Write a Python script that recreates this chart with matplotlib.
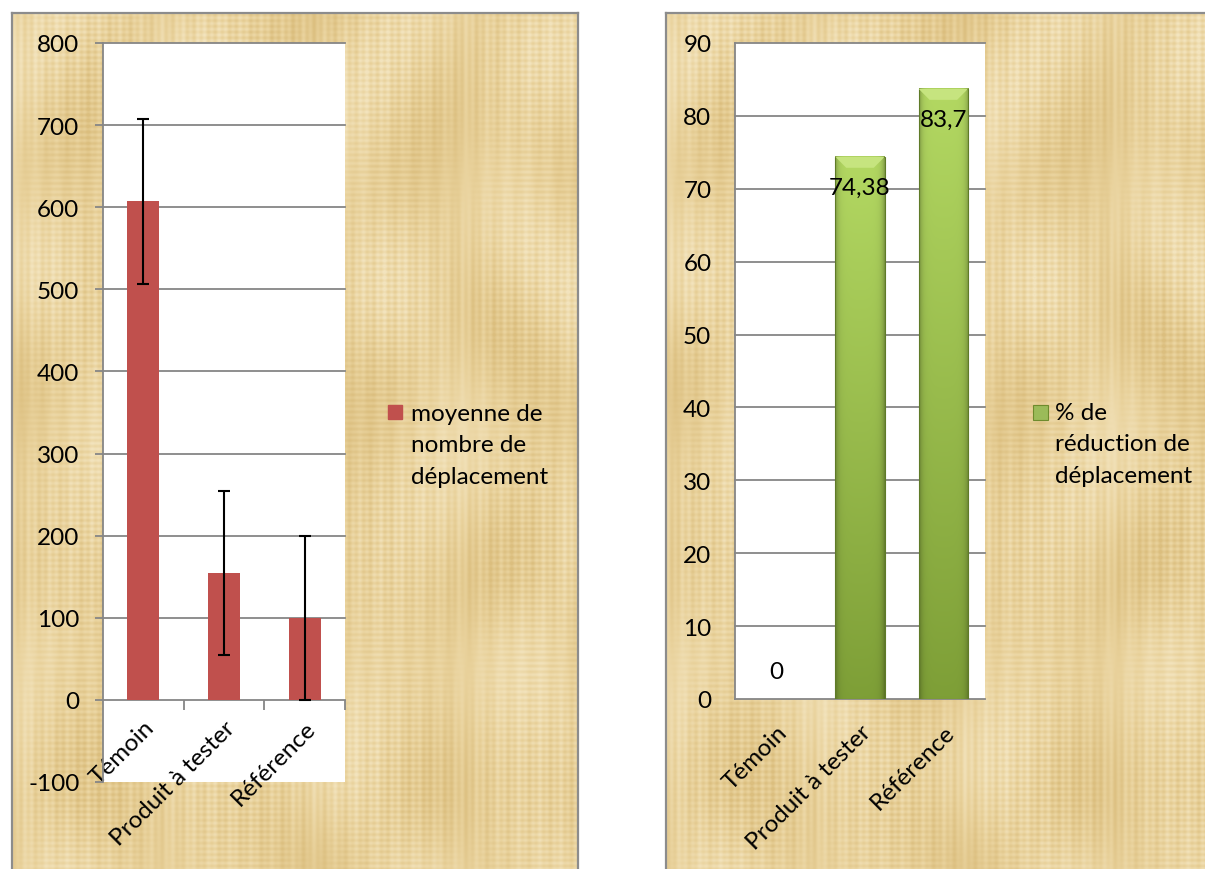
import matplotlib.pyplot as plt
import numpy as np
from matplotlib.patches import Rectangle, Polygon
from matplotlib.colors import LinearSegmentedColormap, to_rgb

W, H = 1205, 870

categories = ['Témoin', 'Produit à tester', 'Référence']
moyenne = [607, 155, 100]
ecart = [100, 100, 100]
reduction = [0, 74.38, 83.7]
reduction_txt = ['0', '74,38', '83,7']

plt.rcParams['font.family'] = ['Lato', 'DejaVu Sans']
plt.rcParams['axes.unicode_minus'] = False
FS = 17.5
GRID = '#868686'


def px_rect(x, y, w, h):
    # pixel box (from top-left) -> figure fraction
    return [x / W, 1 - (y + h) / H, w / W, h / H]


fig = plt.figure(figsize=(W / 100, H / 100), dpi=100)

# parchment texture, deterministic fine fibres
yy, xx = np.mgrid[0:870, 0:560]
tex = (0.55
       + 0.05 * np.sin(xx * 0.9) * np.sin(yy * 0.013 + 1.0)
       + 0.05 * np.sin(yy * 1.1) * np.sin(xx * 0.021)
       + 0.05 * np.sin(xx * 0.037 + 2.0 * np.sin(yy * 0.011))
       + 0.04 * np.sin(yy * 0.029 + 1.5 * np.sin(xx * 0.017))
       + 0.03 * np.sin(xx * 0.31 + yy * 0.004))
paper = LinearSegmentedColormap.from_list('paper', ['#DBBE7E', '#E9D29C', '#F3E4BE'])

for box in [(12, 14, 566, 870), (666, 14, 560, 870)]:
    bg = fig.add_axes(px_rect(*box))
    bg.imshow(tex, cmap=paper, aspect='auto', interpolation='bilinear', vmin=0.38, vmax=0.72)
    bg.set_xticks([])
    bg.set_yticks([])
    for s in bg.spines.values():
        s.set_color('#8C8C8C')
        s.set_linewidth(1.6)
    bg.spines['bottom'].set_visible(False)

# ---- left chart ----
ax = fig.add_axes(px_rect(103, 44, 242, 739))
ax.set_facecolor('white')
x = np.arange(len(categories))
ax.bar(x, moyenne, width=0.4, color='#C0504D', zorder=3,
       yerr=ecart, capsize=4,
       error_kw=dict(ecolor='black', elinewidth=1.5, capthick=1.5, zorder=4))
for v in range(100, 801, 100):
    ax.axhline(v, color=GRID, lw=1.3, zorder=1, clip_on=False)
ax.set_xlim(-0.5, 2.5)
ax.set_ylim(-100, 800)
ax.set_yticks(range(-100, 801, 100))
ax.tick_params(axis='y', length=6, width=1.3, color=GRID, pad=11, labelsize=FS)
ax.spines['bottom'].set_position(('data', 0))
for s in ['top', 'right']:
    ax.spines[s].set_visible(False)
for s in ['left', 'bottom']:
    ax.spines[s].set_color(GRID)
    ax.spines[s].set_linewidth(1.3)
ax.set_xticks(x)
ax.set_xticklabels(categories, rotation=45, ha='right', rotation_mode='anchor', fontsize=FS)
ax.tick_params(axis='x', length=0, pad=12)
ax.set_xticks([0.5, 1.5, 2.5], minor=True)
ax.tick_params(axis='x', which='minor', length=7, width=1.3, color=GRID)

fig.patches.append(Rectangle((388 / W, 1 - 420 / H), 14 / W, 14 / H,
                             transform=fig.transFigure, color='#C0504D'))
fig.text(411 / W, 1 - 446 / H, 'moyenne de\nnombre de\ndéplacement',
         va='center', ha='left', fontsize=FS, linespacing=1.6)

# ---- right chart ----
ax2 = fig.add_axes(px_rect(735, 44, 250, 656))
ax2.set_facecolor('white')
bars = ax2.bar(x, reduction, width=0.59, color='#9BBB59', zorder=3)
for v in range(10, 91, 10):
    ax2.axhline(v, color=GRID, lw=1.3, zorder=1, clip_on=False)

top_c = np.array(to_rgb('#B3D862'))
bot_c = np.array(to_rgb('#7E9F37'))
for b in bars:
    h = b.get_height()
    if h <= 0:
        continue
    x0, w = b.get_x(), b.get_width()
    t = np.linspace(1, 0, 120)[:, None, None]
    col = bot_c + (top_c - bot_c) * t
    u = np.linspace(0, 1, 60)
    edge = 1 - 0.28 * np.exp(-np.minimum(u, 1 - u) / 0.06)
    img = col * edge[None, :, None]
    ax2.imshow(img, extent=(x0, x0 + w, 0, h), aspect='auto', zorder=3.5,
               interpolation='bilinear')
    ax2.add_patch(Rectangle((x0, 0), w, h, fill=False, ec='#5F7B28', lw=0.8, zorder=3.8))
    dx, dy = 0.13, 1.5
    ax2.add_patch(Polygon([(x0, h), (x0 + w, h), (x0 + w - dx, h - dy), (x0 + dx, h - dy)],
                          closed=True, color='#C6E47F', zorder=3.9, lw=0))

for xi, v, lbl in zip(x, reduction, reduction_txt):
    off = -22 if v > 0 else 20
    ax2.annotate(lbl, (xi, v), xytext=(0, off), textcoords='offset points',
                 ha='center', va='center', fontsize=FS, zorder=5)

ax2.set_xlim(-0.5, 2.5)
ax2.set_ylim(0, 90)
ax2.set_yticks(range(0, 91, 10))
ax2.tick_params(axis='y', length=0, pad=17, labelsize=FS)
ax2.set_xticks(x)
ax2.set_xticklabels(categories, rotation=45, ha='right', rotation_mode='anchor', fontsize=FS)
ax2.tick_params(axis='x', length=0, pad=16)
for s in ['top', 'right']:
    ax2.spines[s].set_visible(False)
for s in ['left', 'bottom']:
    ax2.spines[s].set_color(GRID)
    ax2.spines[s].set_linewidth(1.3)

fig.patches.append(Rectangle((1033 / W, 1 - 421 / H), 15 / W, 15 / H,
                             transform=fig.transFigure, fc='#9BBB59', ec='#6E8B2D', lw=0.8))
fig.text(1055 / W, 1 - 445 / H, '% de\nréduction de\ndéplacement',
         va='center', ha='left', fontsize=FS, linespacing=1.6)

fig.savefig('out.png', dpi=100)
